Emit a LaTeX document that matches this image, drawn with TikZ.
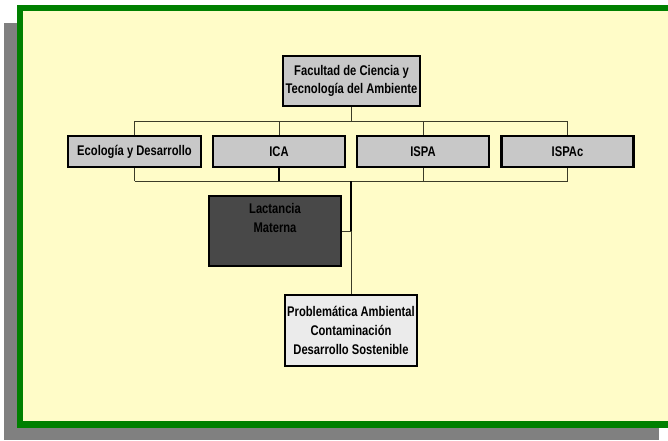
\documentclass[tikz,border=0pt]{standalone}
\usepackage{fontspec}
\setmainfont{Liberation Sans}[FakeStretch=0.80]
\definecolor{bgyellow}{RGB}{255,252,200}
\definecolor{framegreen}{RGB}{0,128,0}
\definecolor{shadowgray}{RGB}{128,128,128}
\definecolor{boxgray}{RGB}{200,200,200}
\definecolor{darkbox}{RGB}{72,72,72}
\definecolor{lightbox}{RGB}{235,235,235}
\definecolor{linecol}{RGB}{60,60,40}
\begin{document}
\begin{tikzpicture}[x=1pt,y=-1pt,
  boxbase/.style={draw=black, line width=2.3pt, rectangle, inner sep=0pt, align=center,
    font=\bfseries\fontsize{14}{18}\selectfont, text=black},
  orgbox/.style={boxbase, fill=boxgray},
  lvlbox/.style={orgbox, minimum width=132, minimum height=31},
  conn/.style={draw=linecol, line width=1pt},
  connb/.style={draw=black, line width=1.3pt}]
\useasboundingbox (0,0) rectangle (668,440);
\clip (0,0) rectangle (668,440);
% shadow and frame
\fill[shadowgray] (4,23) rectangle (659,440);
\fill[bgyellow] (20,7.75) rectangle (672,424.5);
\draw[framegreen, line width=6.5pt] (20,7.75) rectangle (672,424.5);
% nodes
\node[orgbox, minimum width=137, minimum height=50] (fac) at (351.5,81)
  {Facultad de Ciencia y\\Tecnología del Ambiente};
\node[lvlbox, minimum width=133] (eco) at (134.5,151.5) {Ecología y Desarrollo};
\node[lvlbox] (ica) at (279,151.5) {ICA};
\node[lvlbox] (ispa) at (423,151.5) {ISPA};
\node[lvlbox] (ispac) at (567.5,151.5) {ISPAc};
\node[boxbase, fill=darkbox, minimum width=132, minimum height=70] (lact) at (275,231) {};
\node[boxbase, draw=none, anchor=north, font=\bfseries\fontsize{14}{19}\selectfont]
  (lacttext) at ([yshift=-7]lact.north) {Lactancia\\Materna};
\node[boxbase, fill=lightbox, minimum width=132, minimum height=71,
  font=\bfseries\fontsize{14}{19}\selectfont] (prob) at (351,330.5)
  {Problemática Ambiental\\Contaminación\\Desarrollo Sostenible};
% connector coordinates
\coordinate (upL) at (eco.center |- 0,121);
\coordinate (upR) at (ispac.center |- 0,121);
\coordinate (loL) at (eco.center |- 0,181);
\coordinate (loR) at (ispac.center |- 0,181);
\coordinate (trunk) at (prob.north |- 0,181);
\coordinate (lactj) at (prob.north |- lact.east);
% upper bus
\draw[conn] (fac.south) -- (fac.south |- upL);
\draw[conn] (upL) -- (upR);
\draw[conn] (upL) -- (eco.north);
\draw[conn] (ica.north |- upL) -- (ica.north);
\draw[conn] (ispa.north |- upL) -- (ispa.north);
\draw[conn] (upR) -- (ispac.north);
% lower bus
\draw[conn] (eco.south) -- (loL);
\draw[connb] (ica.south) -- (ica.south |- loL);
\draw[conn] (ispa.south) -- (ispa.south |- loL);
\draw[conn] (ispac.south) -- (loR);
\draw[conn] (loL) -- (loR);
% trunk
\draw[connb] (trunk) -- (lactj);
\draw[conn] (lactj) -- (prob.north);
\draw[conn] (lact.east) -- (lactj);
\end{tikzpicture}
\end{document}
